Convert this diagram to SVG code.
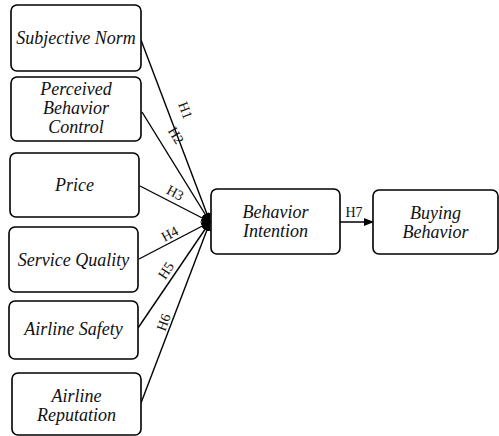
<svg xmlns="http://www.w3.org/2000/svg" width="499" height="436" viewBox="0 0 499 436">
<style>
.box{fill:#fff;stroke:#000;stroke-width:1.6}
.t{font-family:"Liberation Serif",serif;font-style:italic;font-size:18px;fill:#111;text-anchor:middle}
.h{font-family:"Liberation Serif",serif;font-size:14px;fill:#111;text-anchor:middle}
.c{stroke:#000;stroke-width:1.4;fill:none}
</style>
<defs>
<marker id="ah" markerWidth="10" markerHeight="8" refX="9" refY="4" orient="auto" markerUnits="userSpaceOnUse">
<path d="M0,0 L10,4 L0,8 Z" fill="#000"/>
</marker>
</defs>
<rect width="499" height="436" fill="#fff"/>
<g id="connectors">
<line class="c" x1="141" y1="40" x2="210" y2="222" marker-end="url(#ah)"/>
<line class="c" x1="142" y1="112" x2="210" y2="222" marker-end="url(#ah)"/>
<line class="c" x1="140" y1="186" x2="210" y2="222" marker-end="url(#ah)"/>
<line class="c" x1="139" y1="259" x2="210" y2="222" marker-end="url(#ah)"/>
<line class="c" x1="138" y1="328" x2="210" y2="222" marker-end="url(#ah)"/>
<line class="c" x1="141" y1="403" x2="210" y2="222" marker-end="url(#ah)"/>
<circle cx="206" cy="222" r="4" fill="#000"/>
<line class="c" x1="340" y1="222" x2="373" y2="222" marker-end="url(#ah)"/>
<text class="h" transform="translate(181,112) rotate(69)">H1</text>
<text class="h" transform="translate(172,138) rotate(58)">H2</text>
<text class="h" transform="translate(173,197) rotate(28)">H3</text>
<text class="h" transform="translate(172,238) rotate(-28)">H4</text>
<text class="h" transform="translate(170,273) rotate(-57)">H5</text>
<text class="h" transform="translate(168,324) rotate(-70)">H6</text>
<text class="h" x="354" y="217">H7</text>
</g>
<g id="subjective-norm"><rect class="box" x="11" y="5" width="130" height="66" rx="6"/><text class="t" x="76" y="44">Subjective Norm</text></g>
<g id="perceived-behavior-control"><rect class="box" x="11" y="77" width="130" height="64" rx="6"/><text class="t" x="76" y="95">Perceived</text><text class="t" x="76" y="114">Behavior</text><text class="t" x="76" y="133">Control</text></g>
<g id="price"><rect class="box" x="10" y="153" width="129" height="64" rx="6"/><text class="t" x="74.5" y="191">Price</text></g>
<g id="service-quality"><rect class="box" x="9" y="227" width="129" height="65" rx="6"/><text class="t" x="73.5" y="266">Service Quality</text></g>
<g id="airline-safety"><rect class="box" x="9" y="301" width="129" height="58" rx="6"/><text class="t" x="73.5" y="335">Airline Safety</text></g>
<g id="airline-reputation"><rect class="box" x="12" y="373" width="129" height="62" rx="6"/><text class="t" x="76.5" y="402">Airline</text><text class="t" x="76.5" y="421">Reputation</text></g>
<g id="behavior-intention"><rect class="box" x="211" y="189" width="129" height="65" rx="6"/><text class="t" x="275.5" y="218">Behavior</text><text class="t" x="275.5" y="237">Intention</text></g>
<g id="buying-behavior"><rect class="box" x="373" y="190" width="125" height="64" rx="6"/><text class="t" x="435.5" y="219">Buying</text><text class="t" x="435.5" y="238">Behavior</text></g>
</svg>
